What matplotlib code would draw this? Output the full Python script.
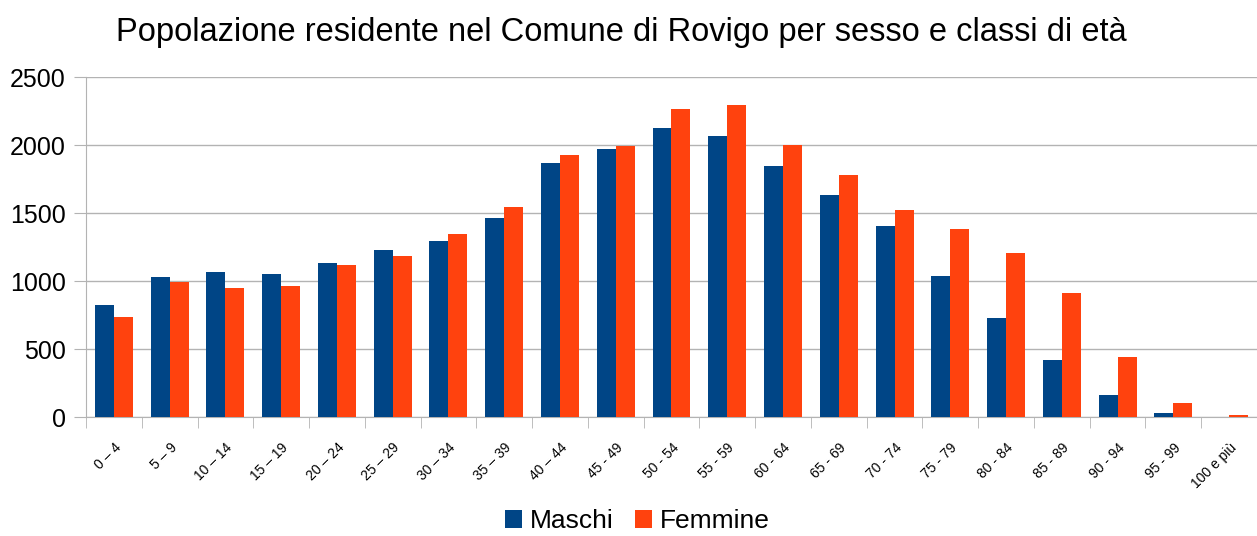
import matplotlib
matplotlib.use("Agg")
import matplotlib.pyplot as plt
import numpy as np

categories = ["0 – 4", "5 – 9", "10 – 14", "15 – 19", "20 – 24", "25 – 29", "30 – 34",
              "35 – 39", "40 – 44", "45 - 49", "50 - 54", "55 - 59", "60 - 64", "65 - 69",
              "70 - 74", "75 - 79", "80 - 84", "85 - 89", "90 - 94", "95 - 99", "100 e più"]
maschi = [825, 1030, 1067, 1052, 1133, 1228, 1294, 1463, 1872, 1975, 2128,
          2070, 1843, 1630, 1404, 1038, 730, 423, 160, 28, 3]
femmine = [737, 993, 949, 964, 1118, 1184, 1345, 1543, 1931, 1997, 2267,
           2297, 2004, 1784, 1521, 1382, 1206, 912, 444, 100, 12]
yticks = [0, 500, 1000, 1500, 2000, 2500]

plt.rcParams['font.family'] = ['Liberation Sans', 'DejaVu Sans']

fig = plt.figure(figsize=(12.57, 5.36), dpi=100)
ax = fig.add_axes([0.0684, 0.222, 0.9316, 0.634])

x = np.arange(len(categories))
w = 0.34
ax.bar(x - w/2, maschi, w, color="#004586", label="Maschi", zorder=3)
ax.bar(x + w/2, femmine, w, color="#FF420E", label="Femmine", zorder=3)

ax.set_xlim(-0.5, len(categories) - 0.5)
ax.set_ylim(0, 2500)
ax.set_yticks(yticks)
ax.set_yticklabels([str(v) for v in yticks], fontsize=18)
ax.grid(axis="y", color="#b3b3b3", linewidth=1, zorder=0)

ax.set_xticks(x)
ax.set_xticklabels(categories, rotation=45, ha="right", rotation_mode="anchor", fontsize=10)
ax.tick_params(axis="x", length=0, pad=17)
ax.set_xticks(np.arange(-0.5, len(categories), 1), minor=True)
ax.tick_params(axis="x", which="minor", length=8, color="#b3b3b3", direction="out")
ax.tick_params(axis="y", length=8.5, color="#b3b3b3", direction="out", pad=6)

for s in ["top", "right"]:
    ax.spines[s].set_visible(False)
for s in ["left", "bottom"]:
    ax.spines[s].set_color("#b3b3b3")

fig.text(0.4944, 0.94, "Popolazione residente nel Comune di Rovigo per sesso e classi di età",
         ha="center", va="center", fontsize=23.5)

fig.legend(loc="center", bbox_to_anchor=(0.507, 0.028), ncol=2, frameon=False, fontsize=19,
           handlelength=0.65, handleheight=0.65, handletextpad=0.3, columnspacing=0.8,
           borderpad=0.1)

fig.savefig("out.png", dpi=100, facecolor="white")
